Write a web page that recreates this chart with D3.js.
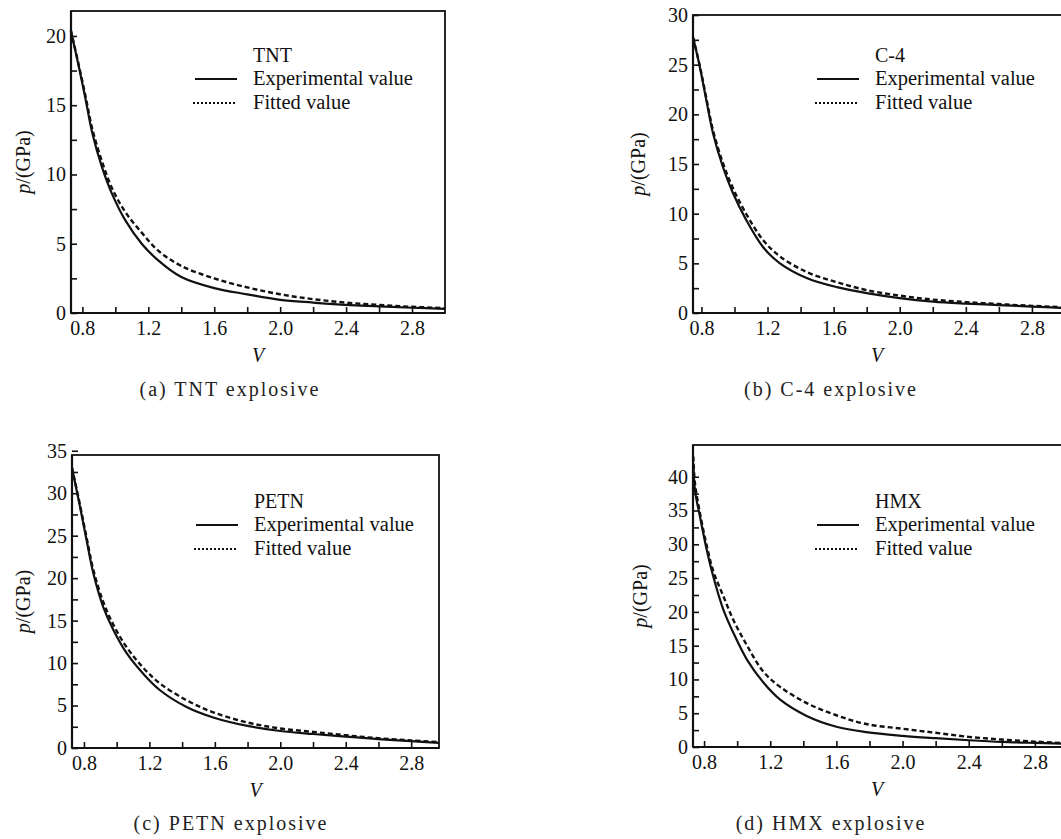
<!DOCTYPE html>
<html>
<head>
<meta charset="utf-8">
<script src="https://cdn.jsdelivr.net/npm/d3@7"></script>
<style>
  body { margin: 0; background: #fff; }
  svg { display: block; }
</style>
</head>
<body>
<svg id="chart" width="1061" height="839"></svg>
<script>
// values: specific volume V and pressure p (GPa)
const tntV   = [0.73, 0.78, 0.82, 0.86, 0.92, 0.98, 1.06, 1.16, 1.26, 1.4, 1.6, 1.8, 2.0, 2.2, 2.4, 2.6, 2.8, 3.0];
const tntExp = [20.4, 17.7, 15.4, 13.0, 10.5, 8.6, 6.7, 5.0, 3.8, 2.6, 1.8, 1.35, 0.95, 0.75, 0.58, 0.48, 0.38, 0.3];
const tntFit = [20.4, 17.8, 15.6, 13.3, 10.9, 9.0, 7.3, 5.8, 4.5, 3.4, 2.5, 1.85, 1.35, 1.0, 0.75, 0.58, 0.45, 0.35];

const c4V   = [0.75, 0.79, 0.83, 0.87, 0.93, 0.99, 1.07, 1.175, 1.275, 1.44, 1.62, 1.8, 2.0, 2.2, 2.4, 2.6, 2.8, 3.0];
const c4Exp = [27.7, 24.8, 21.4, 18.1, 14.7, 12.1, 9.4, 6.6, 5.0, 3.5, 2.6, 2.0, 1.5, 1.15, 0.95, 0.8, 0.65, 0.5];
const c4Fit = [27.7, 24.9, 21.6, 18.4, 15.1, 12.6, 10.0, 7.3, 5.7, 4.1, 3.1, 2.3, 1.75, 1.35, 1.1, 0.9, 0.72, 0.58];

const petnV   = [0.727, 0.776, 0.816, 0.857, 0.918, 0.98, 1.06, 1.16, 1.265, 1.43, 1.59, 1.8, 2.0, 2.2, 2.4, 2.6, 2.8, 2.97];
const petnExp = [33, 28.4, 24.5, 20.6, 16.6, 13.9, 11.2, 8.8, 6.8, 4.8, 3.6, 2.6, 2.0, 1.65, 1.35, 1.05, 0.8, 0.6];
const petnFit = [33, 28.6, 24.8, 21.0, 17.2, 14.5, 11.9, 9.5, 7.6, 5.6, 4.2, 3.0, 2.3, 1.9, 1.5, 1.15, 0.9, 0.7];

const hmxV   = [0.735, 0.745, 0.776, 0.816, 0.856, 0.917, 0.977, 1.06, 1.16, 1.26, 1.42, 1.6, 1.78, 2.0, 2.2, 2.4, 2.6, 2.8, 2.96];
const hmxExp = [42, 38, 34, 29.2, 25.2, 20.3, 16.9, 12.9, 9.5, 7.0, 4.6, 3.0, 2.2, 1.65, 1.3, 1.0, 0.75, 0.6, 0.5];
const hmxFit = [43, 39, 34.5, 29.8, 26.0, 22.3, 18.8, 15.0, 11.1, 8.9, 6.5, 4.7, 3.4, 2.7, 2.1, 1.5, 1.1, 0.8, 0.6];

const xTicks = [0.8, 1.0, 1.2, 1.4, 1.6, 1.8, 2.0, 2.2, 2.4, 2.6, 2.8];
const xLabels = [0.8, 1.2, 1.6, 2.0, 2.4, 2.8];
const legendNames = ["Experimental value", "Fitted value"];

const serif = '"Liberation Serif", "DejaVu Serif", serif';

const panels = [
  { name: "TNT", caption: "(a)  TNT explosive", V: tntV, exp: tntExp, fit: tntFit,
    box: [71, 11, 445, 313], xDom: [0.731, 3.0], yDom: [0, 21.8], yMax: 20,
    capX: 230, capY: 396, yLabX: -48, legTop: 40 },
  { name: "C-4", caption: "(b)  C-4 explosive", V: c4V, exp: c4Exp, fit: c4Fit,
    box: [693, 15, 1063, 313], xDom: [0.749, 2.988], yDom: [0, 30], yMax: 30,
    capX: 831, capY: 396, yLabX: -55, legTop: 36 },
  { name: "PETN", caption: "(c)  PETN explosive", V: petnV, exp: petnExp, fit: petnFit,
    box: [72, 455, 439, 748], xDom: [0.727, 2.97], yDom: [0, 34.5], yMax: 35,
    capX: 231, capY: 830, yLabX: -49, legTop: 42 },
  { name: "HMX", caption: "(d)  HMX explosive", V: hmxV, exp: hmxExp, fit: hmxFit,
    box: [693, 445, 1063, 747], xDom: [0.733, 2.97], yDom: [0, 44.7], yMax: 40,
    capX: 831, capY: 830, yLabX: -53, legTop: 52 }
];

const svg = d3.select("#chart")
  .style("font-family", serif);

panels.forEach(p => {
  const [x0, y0, x1, y1] = p.box;
  const g = svg.append("g");

  const x = d3.scaleLinear().domain(p.xDom).range([x0, x1]);
  const y = d3.scaleLinear().domain(p.yDom).range([y1, y0]);

  // y axis: ticks every 2.5, labels on multiples of 5
  const yTicks = d3.range(0, p.yMax + 0.01, 2.5);
  const ya = g.append("g")
    .attr("transform", `translate(${x0},0)`)
    .call(d3.axisLeft(y).tickValues(yTicks).tickSize(-6).tickPadding(5)
      .tickFormat(d => d % 5 === 0 ? d : ""));
  ya.select(".domain").remove();

  const xa = g.append("g")
    .attr("transform", `translate(0,${y1})`)
    .call(d3.axisBottom(x).tickValues(xTicks).tickSize(-6).tickPadding(8)
      .tickFormat(d => xLabels.some(v => Math.abs(v - d) < 1e-9) ? d3.format(".1f")(d) : ""));
  xa.select(".domain").remove();

  g.selectAll(".tick text")
    .style("font-family", serif).style("font-size", "20px").attr("fill", "#111");
  g.selectAll(".tick line").attr("stroke", "#111").attr("stroke-width", 1.6);
  ya.attr("font-family", null);
  xa.attr("font-family", null);

  // frame
  g.append("rect")
    .attr("x", x0).attr("y", y0)
    .attr("width", x1 - x0).attr("height", y1 - y0)
    .attr("fill", "none").attr("stroke", "#111").attr("stroke-width", 1.8);
  g.append("line").attr("x1", x0).attr("x2", x0).attr("y1", y0).attr("y2", y1)
    .attr("stroke", "#111").attr("stroke-width", 2.2);
  g.append("line").attr("x1", x0).attr("x2", x1).attr("y1", y1).attr("y2", y1)
    .attr("stroke", "#111").attr("stroke-width", 2.2);

  const line = d3.line()
    .x((d, i) => x(p.V[i]))
    .y(d => y(d))
    .curve(d3.curveCatmullRom.alpha(0.5));

  g.append("path").datum(p.fit)
    .attr("d", line).attr("fill", "none")
    .attr("stroke", "#111").attr("stroke-width", 2.4)
    .attr("stroke-dasharray", "5,3");
  g.append("path").datum(p.exp)
    .attr("d", line).attr("fill", "none")
    .attr("stroke", "#111").attr("stroke-width", 2.2);

  // legend
  const lx = x0 + 124, tx = x0 + 182, ly = y0 + p.legTop;
  g.append("text").attr("x", tx).attr("y", ly + 11).attr("fill", "#111")
    .style("font-size", "20px").text(p.name);
  g.append("line").attr("x1", lx).attr("x2", lx + 42).attr("y1", ly + 28).attr("y2", ly + 28)
    .attr("stroke", "#111").attr("stroke-width", 2);
  g.append("text").attr("x", tx).attr("y", ly + 34).attr("fill", "#111")
    .style("font-size", "20.5px").text(legendNames[0]);
  g.append("line").attr("x1", lx - 2).attr("x2", lx + 42).attr("y1", ly + 52).attr("y2", ly + 52)
    .attr("stroke", "#111").attr("stroke-width", 2).attr("stroke-dasharray", "2,2");
  g.append("text").attr("x", tx).attr("y", ly + 58).attr("fill", "#111")
    .style("font-size", "20.5px").text(legendNames[1]);

  // axis titles
  g.append("text")
    .attr("x", (x0 + Math.min(x1, 1061)) / 2)
    .attr("y", y1 + 49)
    .attr("text-anchor", "middle").attr("fill", "#111")
    .style("font-size", "20px").style("font-style", "italic")
    .text("V");

  const yl = g.append("text")
    .attr("transform", `translate(${x0 + p.yLabX},${(y0 + y1) / 2}) rotate(-90)`)
    .attr("text-anchor", "middle").attr("dy", "0.35em").attr("fill", "#111")
    .style("font-size", "20px");
  yl.append("tspan").style("font-style", "italic").text("p");
  yl.append("tspan").text("/(GPa)");

  // caption
  g.append("text")
    .attr("x", p.capX).attr("y", p.capY)
    .attr("text-anchor", "middle").attr("fill", "#222")
    .style("font-size", "20px").style("letter-spacing", "2px")
    .text(p.caption);
});
</script>
</body>
</html>
